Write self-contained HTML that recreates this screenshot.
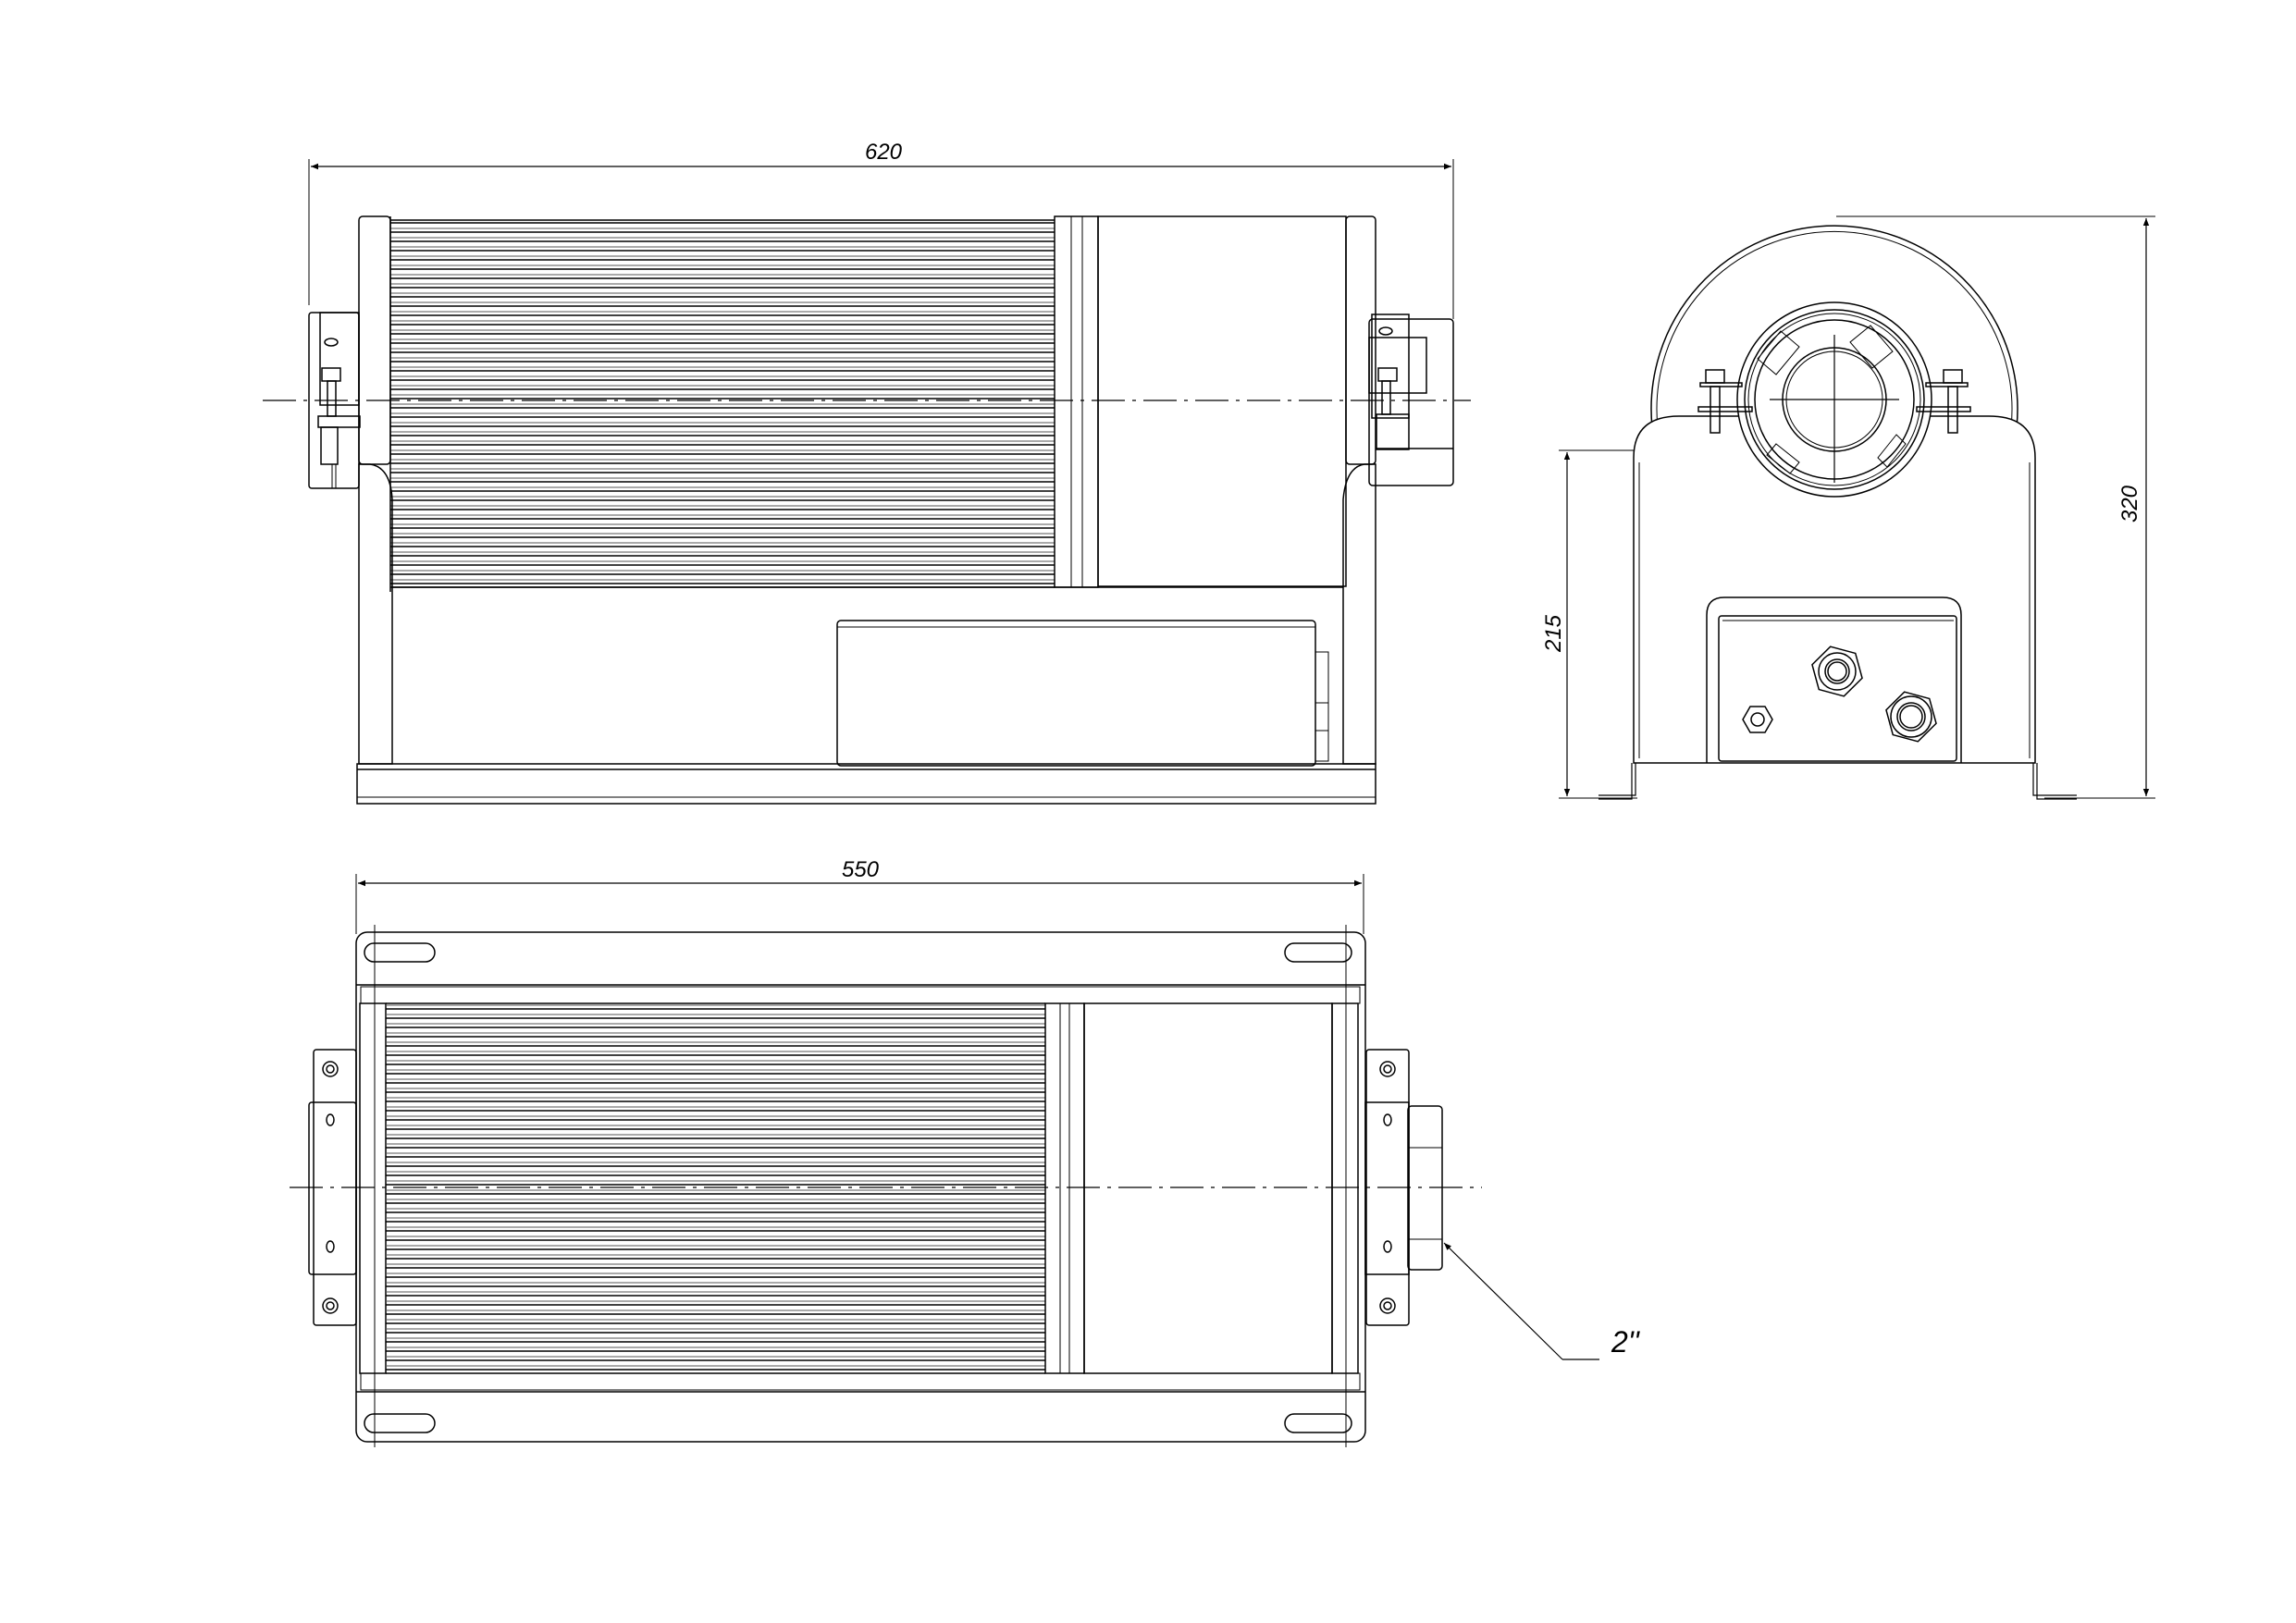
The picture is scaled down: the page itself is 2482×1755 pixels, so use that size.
<!DOCTYPE html>
<html><head><meta charset="utf-8"><style>html,body{margin:0;padding:0;background:#fff}svg{display:block}</style></head>
<body>
<svg width="2482" height="1755" viewBox="0 0 2482 1755" xmlns="http://www.w3.org/2000/svg" fill="none" stroke="#000" stroke-width="1.5" font-family="Liberation Sans, sans-serif">
<defs>
<pattern id="fins" x="0" y="0" width="20" height="20" patternUnits="userSpaceOnUse">
<line x1="0" y1="1" x2="20" y2="1" stroke="#000" stroke-width="1.6"/>
<line x1="0" y1="7" x2="20" y2="7" stroke="#555" stroke-width="1"/>
<line x1="0" y1="11" x2="20" y2="11" stroke="#000" stroke-width="1.6"/>
<line x1="0" y1="17" x2="20" y2="17" stroke="#555" stroke-width="1"/>
</pattern>
<marker id="ar" viewBox="0 0 10 10" refX="10" refY="5" markerWidth="14" markerHeight="8" orient="auto-start-reverse" markerUnits="userSpaceOnUse"><path d="M0,1 L10,5 L0,9 z" fill="#000" stroke="none"/></marker>
</defs>

<!-- ============ TOP VIEW (side elevation) ============ -->
<!-- dimension 620 -->
<line x1="334" y1="172" x2="334" y2="330" stroke-width="1"/>
<line x1="1571" y1="172" x2="1571" y2="345" stroke-width="1"/>
<line x1="336" y1="180" x2="1569" y2="180" stroke-width="1.2" marker-start="url(#ar)" marker-end="url(#ar)"/>
<text x="955" y="172" font-size="24" font-style="italic" fill="#000" stroke="none" text-anchor="middle">620</text>

<!-- body -->
<rect x="388" y="234" width="34" height="268" rx="4"/>
<rect x="422" y="238" width="718" height="397" fill="url(#fins)" stroke="none"/>
<line x1="422" y1="238" x2="1140" y2="238"/>
<line x1="422" y1="635" x2="1140" y2="635"/>
<line x1="422" y1="234" x2="422" y2="640"/>
<rect x="1140" y="234" width="47" height="401"/>
<line x1="1158" y1="234" x2="1158" y2="635" stroke-width="1"/>
<line x1="1170" y1="234" x2="1170" y2="635" stroke-width="1"/>
<rect x="1187" y="234" width="268" height="400"/>
<rect x="1455" y="234" width="32" height="268" rx="4"/>
<!-- posts -->
<path d="M388,502 L388,826 L424,826 L424,540 Q422,505 400,502 Z"/>
<path d="M1487,502 L1487,826 L1452,826 L1452,540 Q1455,505 1475,502 Z"/>
<line x1="424" y1="635" x2="1452" y2="635"/>
<!-- base -->
<rect x="386" y="826" width="1101" height="43"/>
<line x1="386" y1="832" x2="1487" y2="832"/>
<line x1="386" y1="862" x2="1487" y2="862" stroke-width="1"/>
<!-- box -->
<rect x="905" y="671" width="517" height="157" rx="4"/>
<line x1="905" y1="678" x2="1422" y2="678" stroke-width="1"/>
<rect x="1422" y="705" width="14" height="118" stroke-width="1"/>
<line x1="1422" y1="760" x2="1436" y2="760" stroke-width="1"/>
<line x1="1422" y1="790" x2="1436" y2="790" stroke-width="1"/>
<!-- left bracket -->
<rect x="334" y="338" width="54" height="190" rx="3"/>
<rect x="346" y="338" width="42" height="100"/>
<ellipse cx="358" cy="370" rx="7" ry="4"/>
<rect x="348" y="398" width="20" height="14"/>
<rect x="354" y="412" width="9" height="38"/>
<rect x="344" y="450" width="45" height="12"/>
<rect x="347" y="462" width="18" height="40"/>
<line x1="359" y1="502" x2="359" y2="528" stroke-width="1"/>
<line x1="363" y1="502" x2="363" y2="528" stroke-width="1"/>
<!-- right bracket -->
<rect x="1480" y="345" width="91" height="180" rx="4"/>
<rect x="1480" y="365" width="62" height="60"/>
<rect x="1483" y="340" width="40" height="112"/>
<ellipse cx="1498" cy="358" rx="7" ry="4"/>
<rect x="1490" y="398" width="20" height="14"/>
<rect x="1494" y="412" width="9" height="36"/>
<rect x="1488" y="448" width="35" height="38"/>
<line x1="1487" y1="485" x2="1571" y2="485"/>
<!-- centre line -->
<line x1="284" y1="433" x2="1590" y2="433" stroke-width="1.2" stroke-dasharray="36,8,4,8"/>

<!-- ============ SIDE VIEW ============ -->
<!-- 320 dimension -->
<line x1="1985" y1="234" x2="2330" y2="234" stroke-width="1"/>
<line x1="2210" y1="863" x2="2330" y2="863" stroke-width="1"/>
<line x1="2320" y1="236" x2="2320" y2="861" stroke-width="1.2" marker-start="url(#ar)" marker-end="url(#ar)"/>
<text x="0" y="0" font-size="24" font-style="italic" fill="#000" stroke="none" text-anchor="middle" transform="translate(2310,545) rotate(-90)">320</text>
<!-- 215 dimension -->
<line x1="1685" y1="487" x2="1950" y2="487" stroke-width="1"/>
<line x1="1685" y1="863" x2="1770" y2="863" stroke-width="1"/>
<line x1="1694" y1="489" x2="1694" y2="861" stroke-width="1.2" marker-start="url(#ar)" marker-end="url(#ar)"/>
<text x="0" y="0" font-size="24" font-style="italic" fill="#000" stroke="none" text-anchor="middle" transform="translate(1687,685) rotate(-90)">215</text>
<!-- big arc -->
<path d="M1786,462 A198,198 0 1 1 2180,462"/>
<path d="M1792,462 A192,192 0 1 1 2174,462" stroke-width="1"/>
<!-- body -->
<path d="M1766,495 Q1766,450 1815,450 L2150,450 Q2200,450 2200,495 L2200,825 L1766,825 Z" fill="#fff"/>
<line x1="1772" y1="500" x2="1772" y2="820" stroke-width="1"/>
<line x1="2194" y1="500" x2="2194" y2="820" stroke-width="1"/>
<path d="M1768,825 L1768,860 L1728,860 M1764,825 L1764,864 L1728,864" stroke-width="1.2"/>
<path d="M2198,825 L2198,860 L2245,860 M2202,825 L2202,864 L2245,864" stroke-width="1.2"/>
<!-- ring -->
<circle cx="1983" cy="432" r="105" fill="#fff"/>
<circle cx="1983" cy="432" r="97"/>
<circle cx="1983" cy="432" r="93" stroke-width="1"/>
<circle cx="1983" cy="432" r="86"/>
<circle cx="1983" cy="432" r="56"/>
<circle cx="1983" cy="432" r="52" stroke-width="1"/>
<line x1="1913" y1="432" x2="2053" y2="432" stroke-width="1.2"/>
<line x1="1983" y1="362" x2="1983" y2="522" stroke-width="1.2"/>
<g stroke-width="1">
<path d="M1925,358 L1945,375 L1920,405 L1900,388 Z"/>
<path d="M2022,352 L2000,370 L2024,398 L2046,380 Z"/>
<path d="M1920,480 L1945,500 L1935,512 L1910,492 Z"/>
<path d="M2050,470 L2030,495 L2040,505 L2060,480 Z"/>
</g>
<!-- bolts -->
<g>
<rect x="1844" y="400" width="20" height="14"/><rect x="1838" y="414" width="45" height="4"/>
<rect x="1849" y="418" width="10" height="50"/><rect x="1836" y="440" width="58" height="5"/>
<rect x="2101" y="400" width="20" height="14"/><rect x="2082" y="414" width="45" height="4"/>
<rect x="2106" y="418" width="10" height="50"/><rect x="2072" y="440" width="58" height="5"/>
</g>
<!-- lower box -->
<path d="M1845,825 L1845,665 Q1845,646 1864,646 L2100,646 Q2120,646 2120,665 L2120,825"/>
<rect x="1858" y="666" width="257" height="157" rx="3"/>
<line x1="1862" y1="671" x2="2112" y2="671" stroke-width="1"/>
<!-- glands -->
<polygon points="2014,726 2000,750 1972,750 1958,726 1972,702 2000,702" transform="rotate(15 1986 726)"/>
<circle cx="1986" cy="726" r="20"/><circle cx="1986" cy="726" r="13"/><circle cx="1986" cy="726" r="10"/>
<polygon points="2094,775 2080,799 2052,799 2038,775 2052,751 2080,751" transform="rotate(15 2066 775)"/>
<circle cx="2066" cy="775" r="22"/><circle cx="2066" cy="775" r="15"/><circle cx="2066" cy="775" r="12"/>
<polygon points="1916,778 1908,792 1892,792 1884,778 1892,764 1908,764"/>
<circle cx="1900" cy="778" r="7"/>

<!-- ============ FRONT/PLAN VIEW ============ -->
<!-- dimension 550 -->
<line x1="385" y1="945" x2="385" y2="1010" stroke-width="1"/>
<line x1="1474" y1="945" x2="1474" y2="1010" stroke-width="1"/>
<line x1="387" y1="955" x2="1472" y2="955" stroke-width="1.2" marker-start="url(#ar)" marker-end="url(#ar)"/>
<text x="930" y="948" font-size="24" font-style="italic" fill="#000" stroke="none" text-anchor="middle">550</text>
<!-- plate -->
<rect x="385" y="1008" width="1091" height="551" rx="12"/>
<line x1="385" y1="1065" x2="1476" y2="1065"/>
<line x1="385" y1="1505" x2="1476" y2="1505"/>
<line x1="405" y1="1000" x2="405" y2="1565" stroke-width="1"/>
<line x1="1455" y1="1000" x2="1455" y2="1565" stroke-width="1"/>
<!-- slots -->
<rect x="394" y="1020" width="76" height="20" rx="10"/>
<rect x="1389" y="1020" width="72" height="20" rx="10"/>
<rect x="394" y="1529" width="76" height="20" rx="10"/>
<rect x="1389" y="1529" width="72" height="20" rx="10"/>
<!-- rails -->
<rect x="390" y="1067" width="1080" height="18" stroke-width="1"/>
<rect x="390" y="1485" width="1080" height="18" stroke-width="1"/>
<!-- body -->
<rect x="389" y="1085" width="28" height="400"/>
<rect x="417" y="1085" width="713" height="400" fill="url(#fins)" stroke="none"/>
<line x1="417" y1="1085" x2="1130" y2="1085"/>
<line x1="417" y1="1485" x2="1130" y2="1485"/>
<rect x="1130" y="1085" width="42" height="400"/>
<line x1="1146" y1="1085" x2="1146" y2="1485" stroke-width="1"/>
<line x1="1156" y1="1085" x2="1156" y2="1485" stroke-width="1"/>
<rect x="1172" y="1085" width="268" height="400"/>
<rect x="1440" y="1085" width="28" height="400"/>
<!-- left bracket -->
<rect x="339" y="1135" width="46" height="298" rx="3"/>
<rect x="334" y="1192" width="51" height="186" rx="3"/>
<circle cx="357" cy="1156" r="8"/><circle cx="357" cy="1156" r="4"/>
<circle cx="357" cy="1412" r="8"/><circle cx="357" cy="1412" r="4"/>
<ellipse cx="357" cy="1211" rx="4" ry="6"/><ellipse cx="357" cy="1348" rx="4" ry="6"/>
<!-- right bracket -->
<rect x="1477" y="1135" width="46" height="298" rx="3"/>
<rect x="1476" y="1192" width="47" height="186"/>
<circle cx="1500" cy="1156" r="8"/><circle cx="1500" cy="1156" r="4"/>
<circle cx="1500" cy="1412" r="8"/><circle cx="1500" cy="1412" r="4"/>
<ellipse cx="1500" cy="1211" rx="4" ry="6"/><ellipse cx="1500" cy="1348" rx="4" ry="6"/>
<rect x="1522" y="1196" width="37" height="177" rx="4"/>
<line x1="1522" y1="1241" x2="1559" y2="1241" stroke-width="1"/>
<line x1="1522" y1="1340" x2="1559" y2="1340" stroke-width="1"/>
<!-- centre line -->
<line x1="313" y1="1284" x2="1602" y2="1284" stroke-width="1.2" stroke-dasharray="36,8,4,8"/>
<!-- leader -->
<line x1="1561" y1="1344" x2="1689" y2="1470" stroke-width="1.2" marker-start="url(#ar)"/>
<line x1="1689" y1="1470" x2="1729" y2="1470" stroke-width="1.2"/>
<text x="1742" y="1462" font-size="32" font-style="italic" fill="#000" stroke="none">2''</text>
</svg>
</body></html>
